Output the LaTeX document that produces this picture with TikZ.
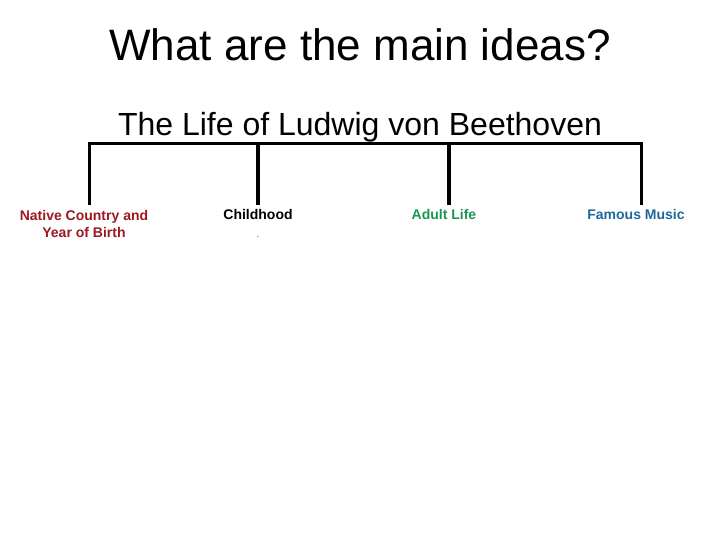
\documentclass[tikz,border=0pt]{standalone}
\usepackage{fontspec}
\setmainfont{Liberation Sans}
\definecolor{redlbl}{RGB}{155,25,30}
\definecolor{greenlbl}{RGB}{25,150,85}
\definecolor{bluelbl}{RGB}{30,105,155}
\tikzset{
  lbl/.style={font=\fontsize{14}{17}\selectfont\bfseries, align=center, inner sep=0pt, anchor=base},
  bar/.style={line width=3.5pt, line cap=rect}
}
\begin{document}
\begin{tikzpicture}[x=1pt,y=-1pt]
\useasboundingbox (0,0) rectangle (720,540);
\node[anchor=base, inner sep=0pt, font=\fontsize{44}{50}\selectfont] (title) at (360,61) {What are the main ideas?};
\node[anchor=base, inner sep=0pt, font=\fontsize{32}{38}\selectfont] (sub) at (360,136) {The Life of Ludwig von Beethoven};
\coordinate (hl) at (89.5,143.5);
\coordinate (hr) at (641.5,143.5);
\coordinate (c1) at (89.5,143.5);
\coordinate (c2) at (258,143.5);
\coordinate (c3) at (449,143.5);
\coordinate (c4) at (641.5,143.5);
\coordinate (e1) at (89.5,203);
\coordinate (e2) at (258,203);
\coordinate (e3) at (449,203);
\coordinate (e4) at (641.5,203);
\draw[bar] (hl) -- (hr);
\draw[bar] (c1) -- (e1);
\draw[bar] (c2) -- (e2);
\draw[bar] (c3) -- (e3);
\draw[bar] (c4) -- (e4);
\node[lbl, text=redlbl] (n1) at (84,237) {Native Country and\\Year of Birth};
\node[lbl, text=black] (n2) at (258,220) {Childhood};
\node[lbl, text=black, font=\fontsize{8}{10}\selectfont] (dot) at (258,237) {.};
\node[lbl, text=greenlbl] (n3) at (444,220) {Adult Life};
\node[lbl, text=bluelbl] (n4) at (636,220) {Famous Music};
\end{tikzpicture}
\end{document}
